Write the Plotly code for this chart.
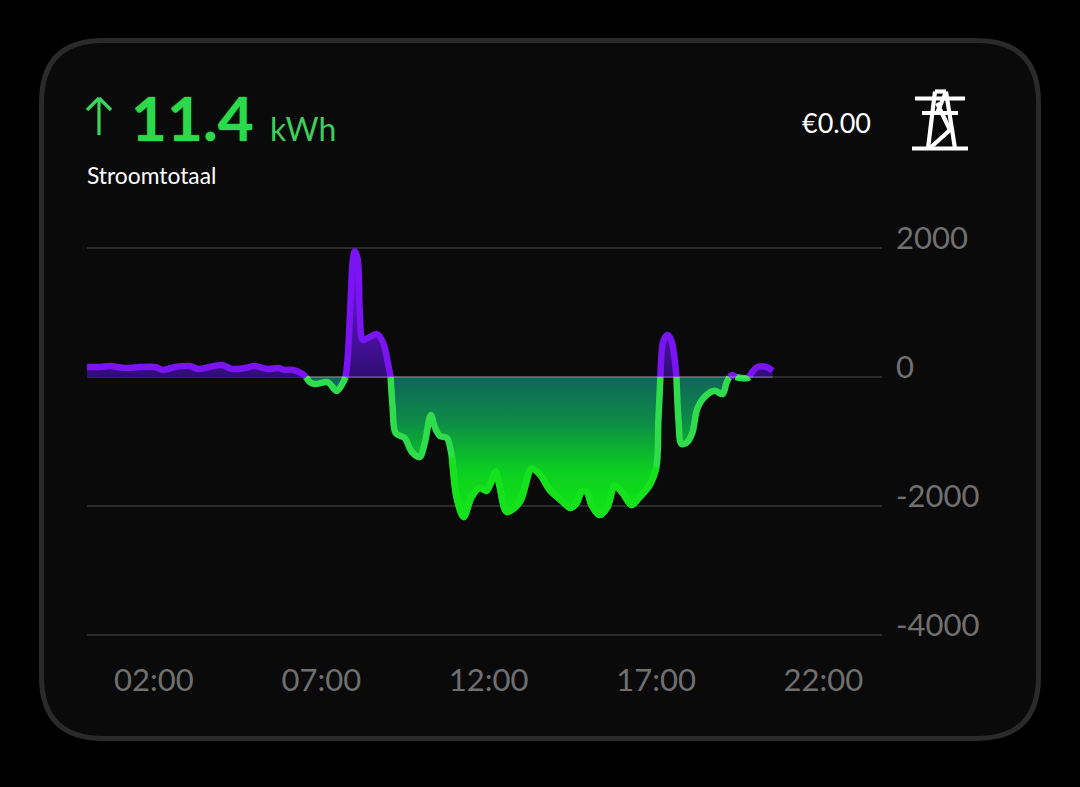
import plotly.graph_objects as go

W, H = 1080, 787

hours = [0.00,0.39,0.69,1.13,1.58,2.03,2.27,2.63,3.07,3.31,3.67,4.03,4.33,4.72,5.01,5.40,5.70,5.91,6.15,6.45,6.54,
         6.66,6.81,7.19,7.46,7.64,7.73,7.79,7.88,7.94,8.00,8.09,8.15,8.24,8.45,8.66,8.84,8.99,9.07,9.13,9.22,9.49,
         9.70,9.94,10.09,10.27,10.39,10.54,10.75,10.90,11.04,11.25,11.49,11.73,11.94,12.21,12.33,12.54,12.93,13.28,
         13.52,13.82,14.12,14.45,14.63,14.78,14.93,15.07,15.31,15.55,15.76,16.00,16.27,16.51,16.81,17.01,17.07,17.13,
         17.22,17.34,17.46,17.61,17.67,17.76,17.94,18.09,18.24,18.51,18.75,18.99,19.10,19.19,19.28,19.37,19.55,19.73,
         19.79,19.85,20.03,20.30,20.48]
watts = [155,155,170,140,155,155,110,155,170,125,155,185,125,140,170,125,140,110,110,45,0,
         -80,-110,-80,-215,-95,0,310,1240,1815,1950,1815,990,575,620,665,540,215,0,-465,-870,-945,
         -1160,-1240,-1025,-590,-775,-915,-945,-1240,-1860,-2170,-1860,-1720,-1765,-1470,-1705,-2090,-1940,-1425,
         -1505,-1750,-1890,-2030,-1955,-1780,-1780,-1985,-2140,-2015,-1690,-1800,-1985,-1860,-1675,-1395,-665,0,
         560,650,560,0,-665,-1040,-1005,-855,-480,-280,-215,-265,-95,0,30,0,-15,-15,
         0,60,155,155,95]
x_ticks = [2, 7, 12, 17, 22]
x_labels = ["02:00", "07:00", "12:00", "17:00", "22:00"]
y_ticks = [2000, 0, -2000, -4000]
y_labels = ["2000", "0", "-2000", "-4000"]
total_text = "11.4"
unit_text = "kWh"
title_text = "Stroomtotaal"
price_text = "€0.00"

GREEN = "#2fdc4c"
DEEP_GREEN = "#14e31c"
PURPLE = "#7a14f2"
LINE_W = 6.5

positive = [v if v >= 0 else None for v in watts]
negative = [v if v <= 0 else None for v in watts]
deep = [v if v <= -1240 else None for v in watts]

fx = lambda p: p / W
fy = lambda p: 1 - p / H

fig = go.Figure()
fig.add_trace(go.Scatter(
    x=hours, y=negative, mode="lines", line=dict(color=GREEN, width=LINE_W, shape="spline", smoothing=0.9),
    fill="tozeroy", fillgradient=dict(type="vertical", start=-2100, stop=0,
                                      colorscale=[[0, "#10e414"], [0.31, "#0ccf20"], [0.48, "#0cb032"],
                                                  [0.68, "#0d8a48"], [1, "#10655a"]]),
    connectgaps=False, cliponaxis=False, hoverinfo="skip", showlegend=False))
fig.add_trace(go.Scatter(
    x=hours, y=deep, mode="lines", line=dict(color=DEEP_GREEN, width=LINE_W, shape="spline", smoothing=0.9),
    connectgaps=False, cliponaxis=False, hoverinfo="skip", showlegend=False))
fig.add_trace(go.Scatter(
    x=hours, y=positive, mode="lines", line=dict(color=PURPLE, width=LINE_W, shape="spline", smoothing=0.9),
    fill="tozeroy", fillgradient=dict(type="vertical", start=1950, stop=0,
                                      colorscale=[[0, "#7a14f2"], [1, "#300e75"]]),
    connectgaps=False, cliponaxis=False, hoverinfo="skip", showlegend=False))


def card_path(x0, y0, x1, y1, r):
    a, b, c, d = fx(x0), fx(x1), fy(y0), fy(y1)
    rx, ry = r / W, r / H
    return (f"M {a+rx} {c} L {b-rx} {c} Q {b} {c} {b} {c-ry} L {b} {d+ry} Q {b} {d} {b-rx} {d} "
            f"L {a+rx} {d} Q {a} {d} {a} {d+ry} L {a} {c-ry} Q {a} {c} {a+rx} {c} Z")


shapes = [dict(type="path", xref="paper", yref="paper", path=card_path(41.5, 40.5, 1038.5, 738.5, 62),
               fillcolor="#0a0a0a", line=dict(color="#2a2a2a", width=5), layer="below"),
          dict(type="line", xref="x", yref="y", x0=hours[20], x1=hours[-1], y0=0, y1=0,
               line=dict(color="rgba(255,255,255,0.2)", width=2), layer="above")]

pylon = [((915, 98.5), (965, 98.5)), ((922, 113), (958, 113)), ((912, 148.5), (968, 148.5)),
         ((935, 91.5), (946, 91.5)), ((935, 91.5), (928, 148.5)), ((946, 91.5), (955, 148.5)),
         ((946, 92), (937, 113)), ((937, 103), (950, 130)), ((950, 130), (930, 148))]
for (a, b) in pylon:
    shapes.append(dict(type="line", xref="paper", yref="paper", x0=fx(a[0]), y0=fy(a[1]), x1=fx(b[0]), y1=fy(b[1]),
                       line=dict(color="#ffffff", width=4.2)))

arrow = [((99, 98), (99, 135)), ((87, 110), (99, 98)), ((111, 110), (99, 98))]
for (a, b) in arrow:
    shapes.append(dict(type="line", xref="paper", yref="paper", x0=fx(a[0]), y0=fy(a[1]), x1=fx(b[0]), y1=fy(b[1]),
                       line=dict(color="#3bd65c", width=3.2)))


def label(text, x, y, size, color, family="Lato", anchor="left", weight=None, shadow=None):
    font = dict(family=family, size=size, color=color)
    if weight:
        font["weight"] = weight
    if shadow:
        font["shadow"] = shadow
    return dict(text=text, xref="paper", yref="paper", x=fx(x), y=fy(y),
                xanchor=anchor, yanchor="middle", showarrow=False, font=font)


annotations = [
    label(total_text, 129, 117, 62, "#2bd94a", weight=700, shadow="0 0 1.5px #2bd94a"),
    label(unit_text, 268, 128, 32, "#3fcc5c"),
    label(title_text, 85, 175, 22.8, "#ffffff"),
    label(price_text, 800, 123, 27, "#ffffff"),
]

fig.update_layout(
    width=W, height=H, margin=dict(l=0, r=0, t=0, b=0), autosize=False,
    paper_bgcolor="#000000", plot_bgcolor="rgba(0,0,0,0)", showlegend=False,
    shapes=shapes, annotations=annotations,
    xaxis=dict(domain=[fx(87), fx(882)], range=[0, 23.75], tickmode="array", tickvals=x_ticks, ticktext=x_labels,
               automargin=False, showgrid=False, zeroline=False, showline=False, ticks="", ticklabelstandoff=18,
               tickfont=dict(family="Lato", size=31, color="#707070")),
    yaxis=dict(domain=[fy(641.45), fy(241.55)], range=[-4100, 2100], side="right", tickmode="array",
               tickvals=y_ticks, ticktext=y_labels, showgrid=True, gridcolor="#2c2c2c", gridwidth=2,
               automargin=False, zeroline=False, showline=False, ticks="", ticklabelstandoff=13, ticklabelshift=-10,
               tickfont=dict(family="Lato", size=31, color="#707070")),
)

fig.write_html("out.html", config=dict(displayModeBar=False),
               post_script="document.body.style.margin='0';document.body.style.overflow='hidden';document.body.style.background='#000';")
